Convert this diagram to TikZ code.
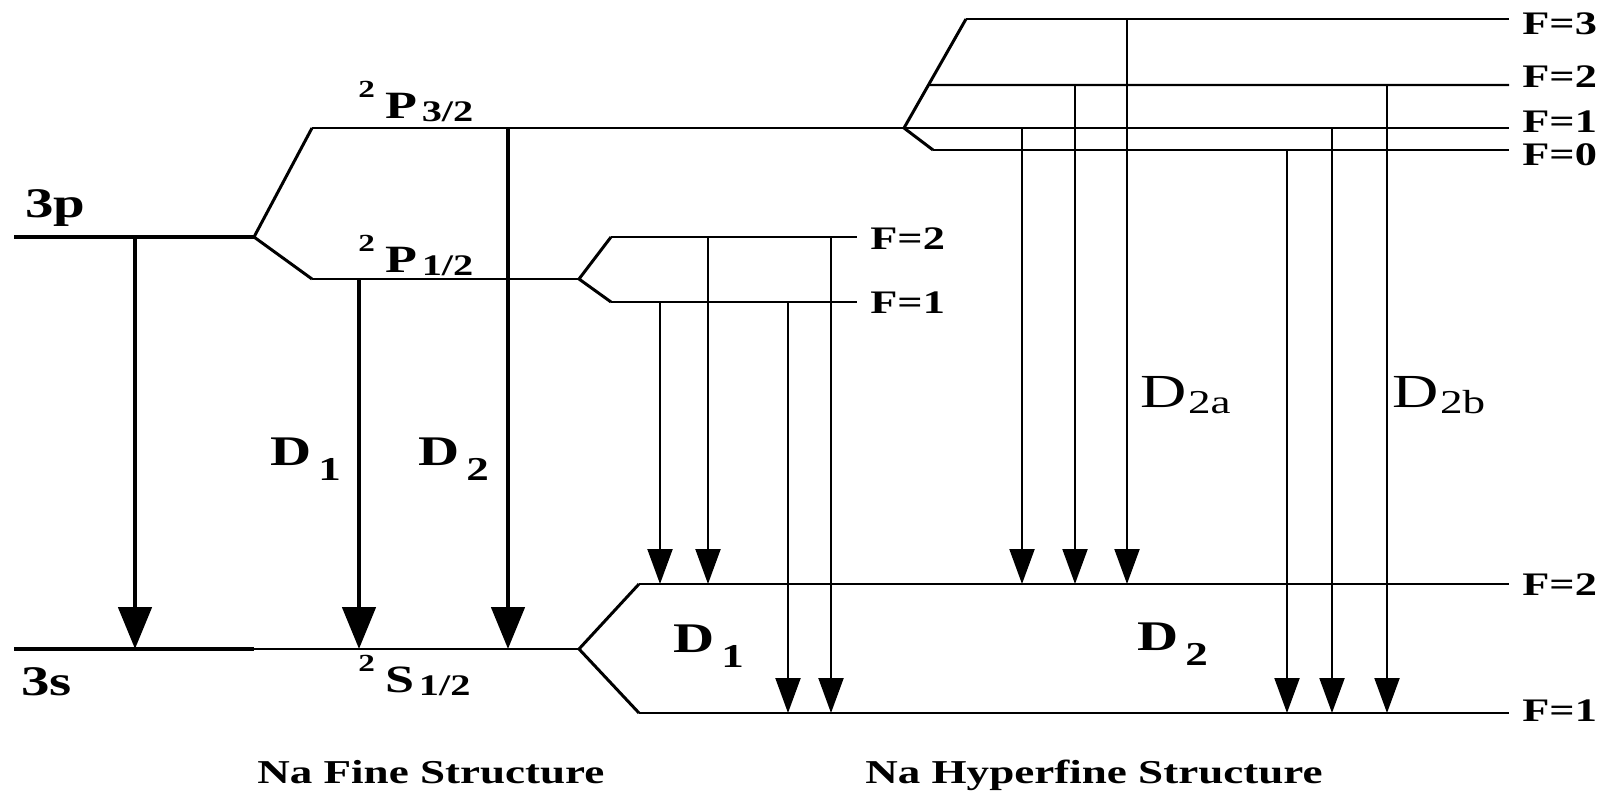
\documentclass[tikz,border=0pt]{standalone}
\usepackage{fontspec}
\setmainfont{Liberation Serif}[FakeStretch=1.35]
\usepackage{graphicx}
\usepackage{tikz}
\usetikzlibrary{positioning,calc,arrows.meta}
\tikzset{LEVEL/.style={line width=1.2pt}}
\tikzset{STRONGLEVEL/.style={line width=2.8pt}}
\tikzset{SPLIT/.style={line width=1.7pt, line join=miter}}
\tikzset{ARROW/.style={line width=1.2pt, -{Triangle[length=0.7cm,width=0.5cm]}}}
\tikzset{BIGARROW/.style={line width=2.8pt, -{Triangle[length=0.84cm,width=0.66cm]}}}
\tikzset{FLABEL/.style={inner sep=0pt, anchor=west, font=\bfseries\fontsize{18.7}{18.7}\selectfont}}
\tikzset{BIGLABEL/.style={inner sep=0pt, anchor=base west, font=\bfseries\fontsize{24}{24}\selectfont}}
\tikzset{DLABEL/.style={inner sep=0pt, anchor=base west, font=\bfseries\fontsize{24}{24}\selectfont}}
\tikzset{THINLABEL/.style={inner sep=0pt, anchor=base west, font=\fontsize{27}{27}\selectfont}}
\tikzset{TERM/.style={inner sep=0pt, anchor=base west, font=\bfseries\fontsize{22}{22}\selectfont}}
\tikzset{TITLE/.style={inner sep=0pt, anchor=base west, font=\bfseries\fontsize{19}{19}\selectfont}}
\newcommand{\sublabel}[2]{#1\hspace{0.14cm}\raisebox{-0.3cm}{\fontsize{19}{19}\selectfont #2}}
\newcommand{\thinsub}[2]{#1\hspace{0.03cm}\raisebox{-0.13cm}{\fontsize{19}{19}\selectfont #2}}
\newcommand{\termsymbol}[3]{\raisebox{0.42cm}{\fontsize{14}{14}\selectfont #1}\hspace{0.22cm}#2\hspace{0.08cm}\raisebox{-0.06cm}{\fontsize{17}{17}\selectfont #3}}

\begin{document}
\begin{tikzpicture}[x=0.02cm, y=-0.02cm]
\useasboundingbox (0,0) rectangle (1604,794);

% fine structure
\coordinate (c_3p_left) at (14,237);
\coordinate (c_3p_right) at (254,237);
\coordinate (c_3s_left) at (14,649);
\coordinate (c_3s_right) at (254,649);
\coordinate (c_p32_left) at (312,128);
\coordinate (c_p32_split) at (904,128);
\coordinate (c_p12_left) at (312,279);
\coordinate (c_p12_right) at (579,279);
\coordinate (c_s12_right) at (579,649);

\draw[STRONGLEVEL] (c_3p_left) -- (c_3p_right);
\draw[STRONGLEVEL] (c_3s_left) -- (c_3s_right);
\draw[LEVEL] (c_3s_right) -- (c_s12_right);
\draw[SPLIT] (c_p32_left) -- (c_3p_right) -- (c_p12_left);
\draw[LEVEL] (c_p32_left) -- (c_p32_split);
\draw[LEVEL] (c_p12_left) -- (c_p12_right);

% hyperfine levels
\coordinate (c_p12_f2_left) at (611,237);
\coordinate (c_p12_f2_right) at (857,237);
\coordinate (c_p12_f1_left) at (611,302);
\coordinate (c_p12_f1_right) at (857,302);
\draw[SPLIT] (c_p12_f2_left) -- (c_p12_right) -- (c_p12_f1_left);
\draw[LEVEL] (c_p12_f2_left) -- (c_p12_f2_right);
\draw[LEVEL] (c_p12_f1_left) -- (c_p12_f1_right);

\coordinate (c_s_f2_left) at (639,584);
\coordinate (c_s_f2_right) at (1509,584);
\coordinate (c_s_f1_left) at (639,713);
\coordinate (c_s_f1_right) at (1509,713);
\draw[SPLIT] (c_s_f2_left) -- (c_s12_right) -- (c_s_f1_left);
\draw[LEVEL] (c_s_f2_left) -- (c_s_f2_right);
\draw[LEVEL] (c_s_f1_left) -- (c_s_f1_right);

\coordinate (c_p_f3_left) at (966,19);
\coordinate (c_p_f3_right) at (1509,19);
\coordinate (c_p_f2_left) at ($(c_p32_split)!0.394!(c_p_f3_left)$);
\coordinate (c_p_f2_right) at (1509,85);
\coordinate (c_p_f1_right) at (1509,128);
\coordinate (c_p_f0_left) at (933,150);
\coordinate (c_p_f0_right) at (1509,150);
\draw[SPLIT] (c_p_f3_left) -- (c_p32_split) -- (c_p_f0_left);
\draw[LEVEL] (c_p_f3_left) -- (c_p_f3_right);
\draw[LEVEL] (c_p_f2_left) -- (c_p_f2_right);
\draw[LEVEL] (c_p32_split) -- (c_p_f1_right);
\draw[LEVEL] (c_p_f0_left) -- (c_p_f0_right);

% transitions
\draw[BIGARROW] (135,0 |- c_3p_left) -- (135,0 |- c_3s_left);
\draw[BIGARROW] (359,0 |- c_p12_left) -- (359,0 |- c_3s_left);
\draw[BIGARROW] (508,0 |- c_p32_left) -- (508,0 |- c_3s_left);
\foreach \xcol/\levtop/\levbot in {660/c_p12_f1_left/c_s_f2_left, 708/c_p12_f2_left/c_s_f2_left,
    788/c_p12_f1_left/c_s_f1_left, 831/c_p12_f2_left/c_s_f1_left,
    1022/c_p32_split/c_s_f2_left, 1075/c_p_f2_left/c_s_f2_left, 1127/c_p_f3_left/c_s_f2_left,
    1287/c_p_f0_left/c_s_f1_left, 1332/c_p32_split/c_s_f1_left, 1387/c_p_f2_left/c_s_f1_left}
  \draw[ARROW] (\xcol,0 |- \levtop) -- (\xcol,0 |- \levbot);

% labels
\node[BIGLABEL] (n_3p) at (25,217) {3p};
\node[BIGLABEL] (n_3s) at (21,695) {3s};
\node[TERM] (n_p32) at (358,118) {\termsymbol{2}{P}{3/2}};
\node[TERM] (n_p12) at (358,272) {\termsymbol{2}{P}{1/2}};
\node[TERM] (n_s12) at (358,692) {\termsymbol{2}{S}{1/2}};
\node[DLABEL] (n_d1_fine) at (270,465) {\sublabel{D}{1}};
\node[DLABEL] (n_d2_fine) at (418,465) {\sublabel{D}{2}};
\node[DLABEL] (n_d1_hyper) at (673,652) {\sublabel{D}{1}};
\node[DLABEL] (n_d2_hyper) at (1137,650) {\sublabel{D}{2}};
\node[THINLABEL] (n_d2a) at (1140,407) {\thinsub{D}{2a}};
\node[THINLABEL] (n_d2b) at (1392,407) {\thinsub{D}{2b}};

\node[FLABEL] (n_p12_f2) at (870,239) {F=2};
\node[FLABEL] (n_p12_f1) at (870,303) {F=1};
\node[FLABEL] (n_p32_f3) at (1522,24) {F=3};
\node[FLABEL] (n_p32_f2) at (1522,77) {F=2};
\node[FLABEL] (n_p32_f1) at (1522,122) {F=1};
\node[FLABEL] (n_p32_f0) at (1522,155) {F=0};
\node[FLABEL] (n_s12_f2) at (1522,585) {F=2};
\node[FLABEL] (n_s12_f1) at (1522,711) {F=1};

\node[TITLE] (n_fine) at (257,783) {Na Fine Structure};
\node[TITLE] (n_hyperfine) at (865,783) {Na Hyperfine Structure};

\end{tikzpicture}
\end{document}
